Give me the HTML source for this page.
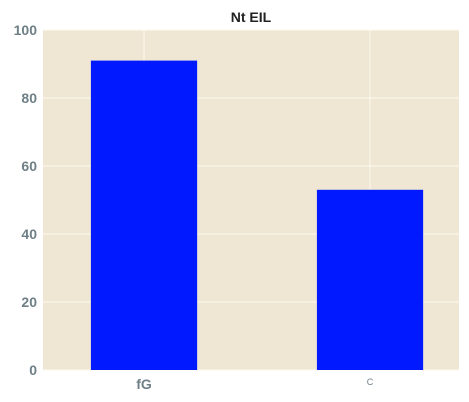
<!DOCTYPE html>
<html><head><meta charset="utf-8"><style>
html,body{margin:0;padding:0;background:#fff;width:469px;height:402px;overflow:hidden}
text{font-family:"Liberation Sans",sans-serif}
</style></head><body>
<svg id="chart" width="469" height="402" xmlns="http://www.w3.org/2000/svg"></svg>
<script>
const categories = ["fG", "C"];
const values = [91, 53];
const yTicks = [0, 20, 40, 60, 80, 100];
const tickFont = [14, 9];

const svg = document.getElementById('chart');
const NS = 'http://www.w3.org/2000/svg';
const L = 43, R = 459, T = 30, B = 370;
const xMin = -0.447, step = 226;
const y = v => B - (v / 100) * (B - T);
const x = i => L + (i - xMin) * step;
const bw = 0.47 * step;
function mk(tag, attrs, parent) {
  const e = document.createElementNS(NS, tag);
  for (const k in attrs) e.setAttribute(k, attrs[k]);
  (parent || svg).appendChild(e);
  return e;
}
const bg = mk('rect', {x: L, y: T, width: R - L, height: B - T, fill: '#efe7d4'});


yTicks.forEach(t => {
  const g = mk('line', {x1: L, x2: R, y1: y(t), y2: y(t), stroke: '#fbf8ef', 'stroke-width': 1});
  
  
  const lb = mk('text', {x: L - 6, y: y(t) + 5, 'text-anchor': 'end', 'font-size': 14, 'font-weight': 'bold', fill: '#6e7f86'});
  lb.textContent = t;
  
  
});
categories.forEach((c, i) => {
  const g = mk('line', {x1: x(i), x2: x(i), y1: T, y2: B, stroke: '#fbf8ef', 'stroke-width': 1});
  
  
});
categories.forEach((c, i) => {
  const b = mk('rect', {x: x(i) - bw / 2, y: y(values[i]), width: bw, height: B - y(values[i]), fill: '#0019ff'});
  
  
  const fs = tickFont[i];
  const lb = mk('text', {x: x(i), y: B + (fs > 10 ? 19 : 15), 'text-anchor': 'middle', 'font-size': fs, 'font-weight': fs > 10 ? 'bold' : 'normal', fill: '#6e7f86'});
  lb.textContent = c;
  
  
});
const title = mk('text', {x: (L + R) / 2, y: 22, 'text-anchor': 'middle', 'font-size': 14, 'font-weight': 'bold', fill: '#222'});
title.textContent = 'Nt EIL';


</script>
</body></html>
